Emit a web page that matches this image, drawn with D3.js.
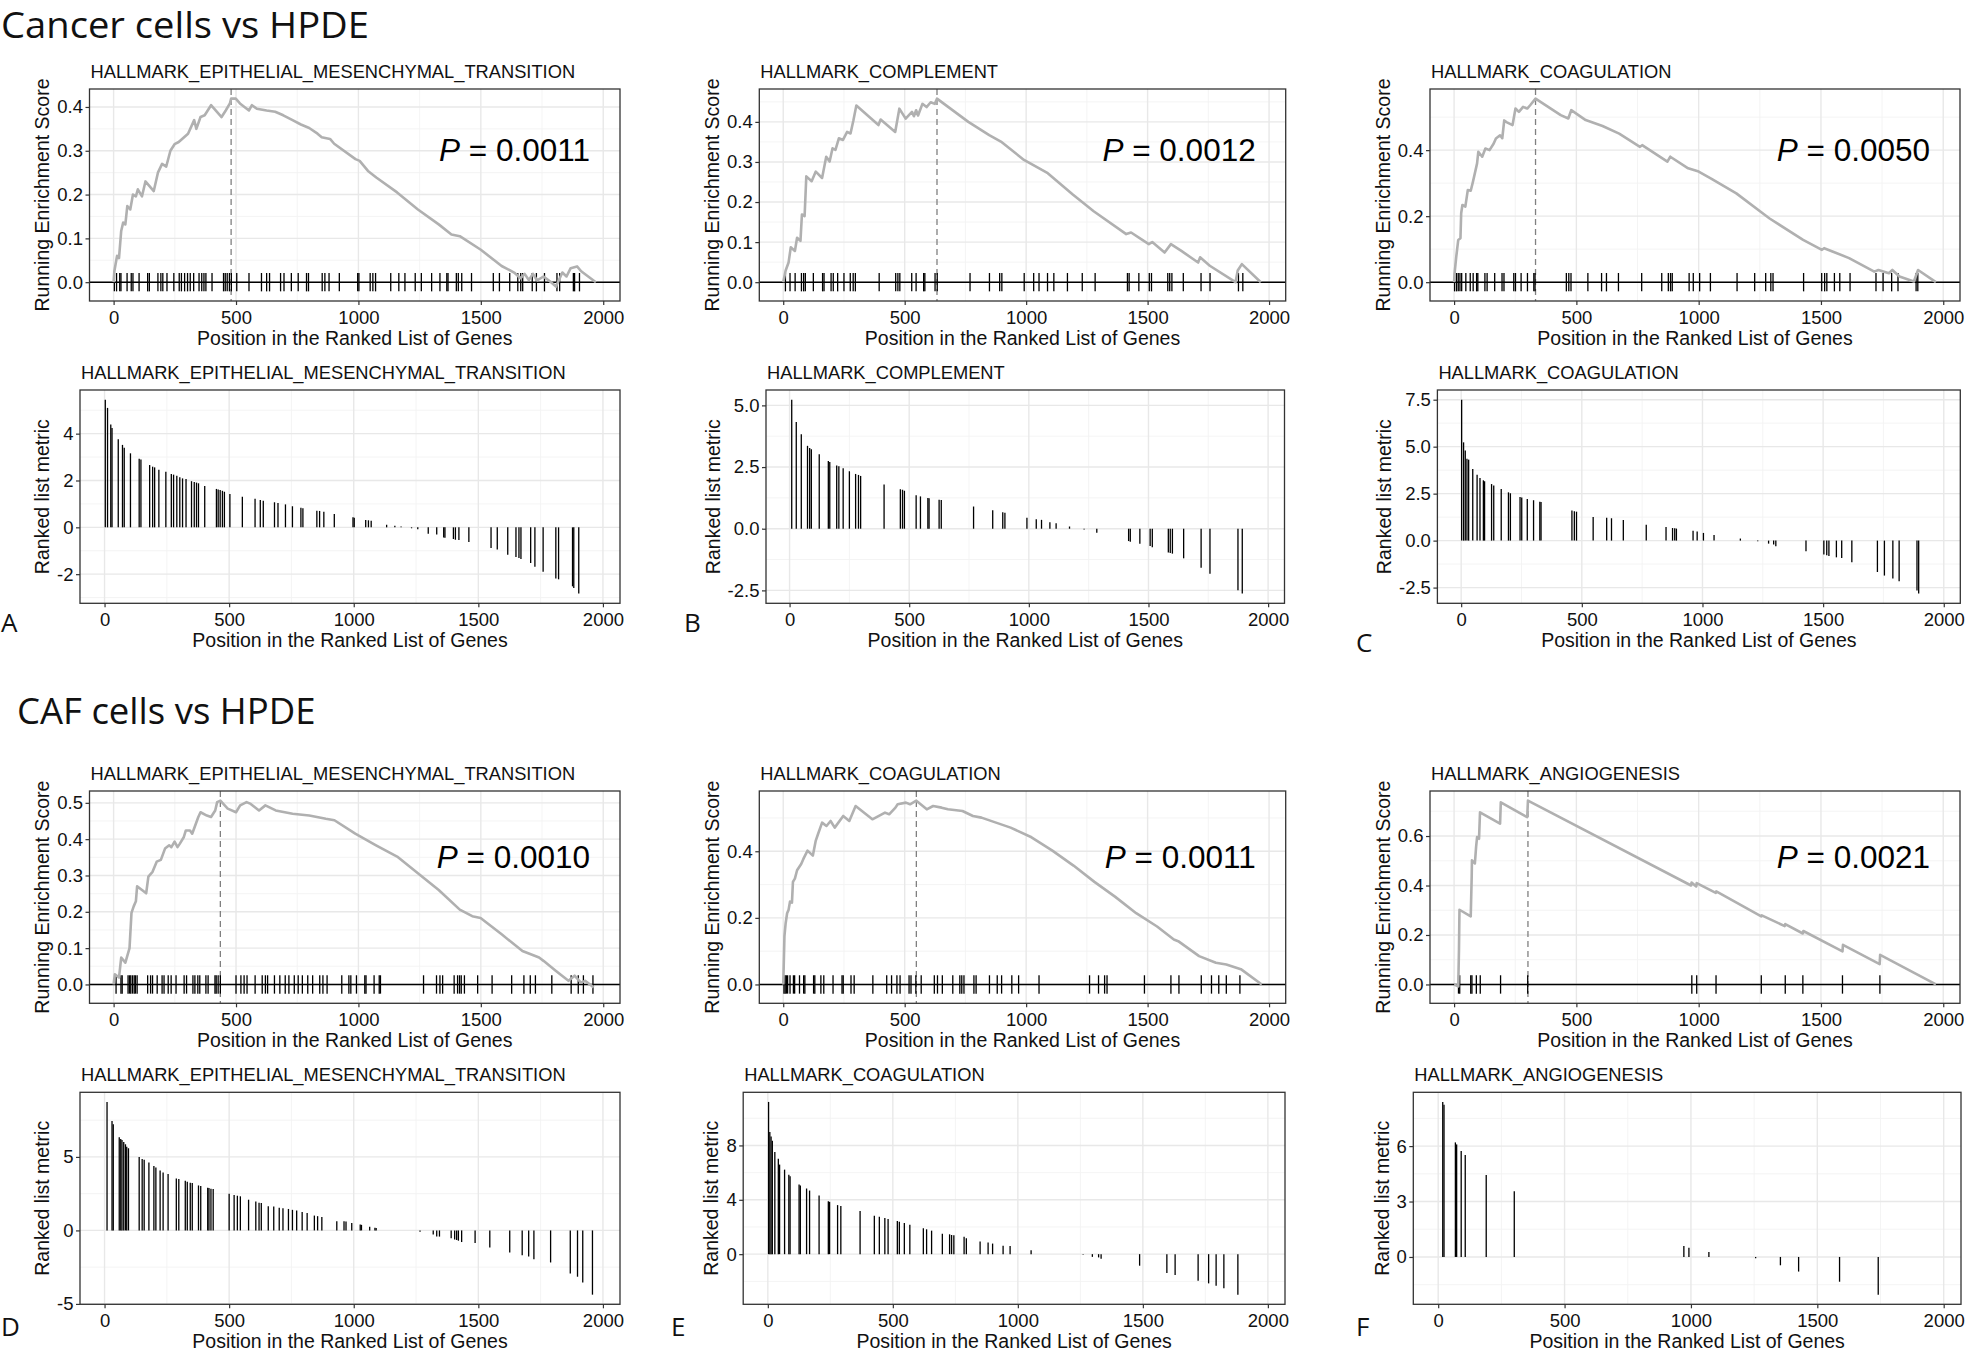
<!DOCTYPE html>
<html><head><meta charset="utf-8">
<script src="https://cdn.jsdelivr.net/npm/d3@7"></script>
<style>body{margin:0;background:#fff}svg{display:block}</style>
</head><body>
<svg id="c" width="1965" height="1351"></svg>
<script>
// ---------------- DATA ----------------
const nGenes = 1970;
const xTicks = [0, 500, 1000, 1500, 2000];
const headers = ["Cancer cells vs HPDE", "CAF cells vs HPDE"];
const panelLetters = ["A", "B", "C", "D", "E", "F"];
const titles = ["HALLMARK_EPITHELIAL_MESENCHYMAL_TRANSITION", "HALLMARK_COMPLEMENT", "HALLMARK_COAGULATION",
                "HALLMARK_EPITHELIAL_MESENCHYMAL_TRANSITION", "HALLMARK_COAGULATION", "HALLMARK_ANGIOGENESIS"];
const pValues = ["0.0011", "0.0012", "0.0050", "0.0010", "0.0011", "0.0021"];
const peaks = [480, 633, 333, 436, 548, 302];

const esTicksA = [0, 0.1, 0.2, 0.3, 0.4];
const esTicksB = [0, 0.1, 0.2, 0.3, 0.4];
const esTicksC = [0, 0.2, 0.4];
const esTicksD = [0, 0.1, 0.2, 0.3, 0.4, 0.5];
const esTicksE = [0, 0.2, 0.4];
const esTicksF = [0, 0.2, 0.4, 0.6];
const metricTicksA = [-2, 0, 2, 4];
const metricTicksB = [-2.5, 0, 2.5, 5];
const metricTicksC = [-2.5, 0, 2.5, 5, 7.5];
const metricTicksD = [-5, 0, 5];
const metricTicksE = [0, 4, 8];
const metricTicksF = [0, 3, 6];

const hitsA = [3,12,25,30,55,72,79,104,139,146,181,193,201,218,246,268,277,290,302,313,327,349,360,369,377,402,449,456,464,473,481,503,553,604,625,637,682,696,726,754,788,796,852,863,880,922,997,1002,1048,1059,1070,1132,1165,1190,1232,1257,1299,1333,1361,1366,1400,1408,1422,1462,1551,1576,1618,1651,1663,1671,1710,1727,1760,1811,1822,1878,1883,1903];
const metricA = [5.45,5.10,4.39,4.24,3.76,3.52,3.40,3.16,2.93,2.90,2.66,2.59,2.56,2.46,2.37,2.28,2.25,2.20,2.14,2.09,2.06,1.97,1.94,1.91,1.88,1.77,1.64,1.62,1.59,1.56,1.52,1.42,1.31,1.22,1.17,1.14,1.07,1.04,0.98,0.90,0.84,0.81,0.71,0.70,0.67,0.57,0.43,0.41,0.31,0.30,0.28,0.11,0.07,0.04,-0.04,-0.08,-0.27,-0.31,-0.43,-0.44,-0.50,-0.53,-0.54,-0.63,-0.88,-0.95,-1.17,-1.27,-1.31,-1.35,-1.52,-1.68,-1.90,-2.19,-2.22,-2.52,-2.59,-2.83];
const esCurveA = [[0,0],[3,0.025],[14,0.06],[22,0.055],[31,0.117],[39,0.136],[48,0.132],[56,0.174],[68,0.166],[79,0.2],[91,0.196],[99,0.212],[116,0.196],[130,0.23],[164,0.208],[181,0.25],[198,0.27],[215,0.264],[232,0.3],[249,0.315],[266,0.32],[304,0.339],[329,0.37],[338,0.35],[355,0.377],[372,0.381],[398,0.404],[441,0.377],[458,0.392],[475,0.408],[480,0.419],[499,0.419],[516,0.408],[553,0.392],[565,0.404],[585,0.396],[625,0.392],[660,0.389],[693,0.381],[731,0.37],[765,0.36],[799,0.352],[833,0.339],[850,0.331],[884,0.327],[901,0.316],[988,0.281],[1005,0.277],[1039,0.254],[1073,0.239],[1158,0.205],[1243,0.166],[1328,0.132],[1380,0.109],[1414,0.105],[1500,0.074],[1585,0.037],[1636,0.022],[1662,0.009],[1679,0.019],[1696,0.005],[1713,0.019],[1730,0.004],[1756,0.013],[1782,0.002],[1807,-0.01],[1833,0.022],[1850,0.013],[1867,0.032],[1893,0.036],[1910,0.025],[1970,0]];

const hitsB = [9,28,49,75,84,91,124,162,168,197,206,224,250,276,288,297,395,463,472,480,529,547,578,583,625,634,769,849,891,900,992,1031,1053,1088,1114,1170,1231,1284,1417,1424,1464,1507,1516,1583,1591,1600,1647,1720,1757,1874,1892];
const metricB = [5.23,4.33,3.83,3.36,3.27,3.22,3.02,2.74,2.70,2.56,2.53,2.45,2.33,2.22,2.18,2.14,1.79,1.60,1.58,1.54,1.36,1.31,1.25,1.24,1.17,1.16,0.90,0.75,0.67,0.65,0.44,0.38,0.36,0.26,0.22,0.09,-0.03,-0.16,-0.50,-0.53,-0.61,-0.70,-0.75,-0.96,-0.98,-1.01,-1.20,-1.58,-1.83,-2.49,-2.63];
const esCurveB = [[0,0],[10,0.029],[22,0.049],[31,0.087],[48,0.078],[57,0.111],[71,0.103],[77,0.169],[88,0.165],[95,0.264],[117,0.252],[134,0.276],[160,0.26],[177,0.313],[191,0.301],[203,0.334],[215,0.33],[229,0.359],[246,0.355],[263,0.375],[277,0.371],[289,0.404],[301,0.441],[392,0.392],[401,0.406],[461,0.375],[478,0.433],[504,0.408],[530,0.425],[538,0.414],[547,0.429],[555,0.416],[573,0.445],[590,0.437],[607,0.449],[624,0.445],[633,0.458],[762,0.40],[848,0.367],[896,0.351],[991,0.305],[1089,0.272],[1192,0.219],[1278,0.177],[1412,0.120],[1432,0.124],[1475,0.107],[1505,0.095],[1519,0.10],[1570,0.074],[1596,0.095],[1639,0.078],[1708,0.049],[1716,0.062],[1756,0.041],[1862,0.0],[1871,0.029],[1888,0.045],[1966,0]];

const hitsC = [2,10,17,24,31,48,66,78,92,97,126,135,166,196,204,244,251,274,300,326,331,459,469,478,547,603,623,672,767,849,876,885,892,961,978,1004,1048,1157,1229,1274,1295,1304,1429,1503,1515,1524,1555,1577,1619,1725,1754,1789,1815,1889,1896];
const metricC = [7.50,5.23,4.79,4.36,4.31,3.81,3.51,3.33,3.21,3.16,3.01,2.94,2.75,2.57,2.52,2.32,2.29,2.22,2.15,2.07,2.06,1.60,1.56,1.54,1.26,1.22,1.19,1.10,0.85,0.73,0.67,0.66,0.64,0.53,0.48,0.41,0.30,0.11,-0.04,-0.16,-0.21,-0.30,-0.57,-0.74,-0.78,-0.82,-0.89,-0.92,-1.15,-1.67,-1.86,-2.02,-2.16,-2.66,-2.82];
const esCurveC = [[0,0],[2,0.027],[9,0.078],[17,0.128],[26,0.133],[29,0.209],[34,0.234],[46,0.229],[56,0.279],[68,0.277],[77,0.304],[94,0.36],[99,0.395],[115,0.38],[128,0.405],[145,0.40],[162,0.42],[171,0.435],[188,0.445],[197,0.436],[205,0.49],[214,0.485],[239,0.476],[251,0.526],[265,0.516],[282,0.531],[299,0.526],[311,0.536],[333,0.556],[436,0.506],[467,0.496],[479,0.521],[538,0.491],[607,0.473],[675,0.45],[760,0.41],[769,0.415],[872,0.365],[884,0.38],[957,0.345],[1000,0.335],[1051,0.314],[1154,0.269],[1290,0.193],[1427,0.128],[1504,0.098],[1513,0.103],[1547,0.093],[1615,0.073],[1718,0.032],[1735,0.037],[1778,0.027],[1792,0.037],[1821,0.017],[1880,0.002],[1897,0.037],[1970,0]];

const hitsD = [10,30,35,59,65,70,77,84,89,96,139,151,159,178,198,206,223,235,255,288,298,324,332,344,352,377,386,414,419,427,436,500,520,533,545,578,607,620,629,657,679,701,716,738,754,771,793,813,842,855,872,932,961,969,992,1026,1031,1064,1085,1090,1266,1319,1333,1344,1391,1405,1413,1420,1433,1487,1546,1626,1676,1702,1723,1790,1869,1898,1919,1958];
const metricD = [8.74,7.45,7.23,6.33,6.22,6.15,6.01,5.86,5.70,5.59,5.00,4.86,4.80,4.62,4.39,4.28,4.08,3.94,3.83,3.54,3.49,3.38,3.31,3.24,3.22,3.06,3.02,2.91,2.88,2.84,2.82,2.50,2.41,2.36,2.32,2.09,1.96,1.89,1.87,1.64,1.62,1.55,1.51,1.46,1.40,1.35,1.26,1.19,1.01,0.97,0.92,0.63,0.62,0.61,0.50,0.41,0.38,0.25,0.18,0.16,-0.09,-0.27,-0.41,-0.42,-0.54,-0.61,-0.65,-0.70,-0.79,-0.86,-1.17,-1.51,-1.69,-1.78,-1.96,-2.18,-2.93,-3.15,-3.54,-4.37];
const esCurveD = [[0,0],[5,0.028],[22,0.019],[31,0.074],[48,0.06],[65,0.10],[73,0.197],[82,0.215],[91,0.229],[96,0.27],[116,0.26],[133,0.251],[142,0.297],[159,0.31],[176,0.338],[193,0.343],[210,0.374],[227,0.383],[236,0.378],[249,0.393],[261,0.378],[270,0.387],[287,0.406],[295,0.424],[312,0.424],[321,0.415],[346,0.461],[355,0.474],[381,0.465],[398,0.461],[415,0.479],[423,0.502],[436,0.506],[466,0.484],[500,0.474],[517,0.493],[543,0.502],[560,0.497],[577,0.488],[594,0.479],[620,0.493],[662,0.479],[731,0.47],[799,0.465],[867,0.456],[902,0.452],[987,0.415],[1072,0.383],[1158,0.352],[1243,0.306],[1328,0.26],[1414,0.206],[1465,0.188],[1499,0.183],[1585,0.138],[1670,0.092],[1738,0.074],[1756,0.065],[1807,0.037],[1858,0.01],[1883,0.024],[1909,0.005],[1926,0.01],[1961,-0.008]];

const hitsE = [3,8,13,18,28,42,47,67,84,89,125,130,155,167,205,242,247,279,292,369,426,446,468,481,518,526,546,568,622,635,655,698,727,735,744,785,794,849,881,899,941,969,1053,1261,1298,1323,1333,1487,1596,1629,1721,1763,1793,1824,1880];
const metricE = [11.2,8.98,8.66,8.34,7.51,7.02,6.59,6.22,5.85,5.73,5.12,5.05,4.83,4.68,4.32,3.90,3.85,3.61,3.54,3.17,2.83,2.76,2.66,2.59,2.44,2.39,2.29,2.17,1.90,1.83,1.73,1.51,1.46,1.41,1.39,1.29,1.17,0.93,0.85,0.78,0.61,0.60,0.29,-0.05,-0.20,-0.24,-0.34,-0.85,-1.39,-1.54,-1.95,-2.15,-2.32,-2.51,-2.98];
const esCurveE = [[0,0],[2,0.055],[5,0.145],[10,0.184],[16,0.214],[22,0.224],[28,0.249],[36,0.246],[40,0.308],[48,0.318],[57,0.343],[74,0.362],[83,0.377],[100,0.402],[122,0.387],[134,0.432],[143,0.451],[160,0.486],[178,0.476],[195,0.491],[212,0.471],[247,0.506],[272,0.491],[298,0.536],[367,0.496],[419,0.516],[436,0.511],[462,0.531],[471,0.541],[505,0.546],[522,0.541],[548,0.552],[591,0.526],[617,0.536],[652,0.531],[678,0.526],[738,0.521],[781,0.506],[816,0.501],[936,0.471],[1022,0.442],[1108,0.402],[1195,0.357],[1281,0.308],[1367,0.263],[1453,0.214],[1539,0.174],[1608,0.135],[1626,0.13],[1712,0.085],[1781,0.065],[1824,0.06],[1884,0.046],[1970,0]];

const hitsF = [18,23,68,73,91,107,190,301,972,992,1071,1256,1354,1426,1588,1741];
const metricF = [8.39,8.24,6.20,6.09,5.73,5.52,4.44,3.55,0.59,0.50,0.27,-0.07,-0.45,-0.79,-1.34,-2.04];
const esCurveF = [[0,0],[17,-0.008],[20,0.142],[22,0.302],[68,0.275],[72,0.436],[73,0.502],[85,0.489],[90,0.556],[94,0.596],[102,0.589],[106,0.696],[188,0.65],[191,0.736],[299,0.676],[302,0.743],[969,0.400],[971,0.412],[990,0.396],[992,0.410],[1070,0.370],[1072,0.376],[1256,0.275],[1258,0.279],[1352,0.236],[1354,0.244],[1426,0.206],[1428,0.216],[1588,0.134],[1590,0.160],[1740,0.082],[1742,0.120],[1970,0]];

// ---------------- LAYOUT / STYLE ----------------
const FONT = "'Liberation Sans', Arial, Helvetica, sans-serif";
const HFONT = "'Open Sans', 'Noto Sans', sans-serif";
const esBoxes = [
  {left:89.5, right:620, top:89, bottom:301, pY:161},
  {left:759.3, right:1285.7, top:89, bottom:301, pY:161},
  {left:1430, right:1960, top:89, bottom:301, pY:161},
  {left:89.5, right:620, top:791, bottom:1003.3, pY:868},
  {left:759.3, right:1285.7, top:791, bottom:1003.3, pY:868},
  {left:1430, right:1960, top:791, bottom:1003.3, pY:868}];
const mBoxes = [
  {left:80, right:620, top:390, bottom:603.3},
  {left:766, right:1284.5, top:390, bottom:603.3},
  {left:1437.4, right:1960.3, top:390, bottom:603.3},
  {left:80, right:620, top:1092.3, bottom:1304.3},
  {left:743.2, right:1285, top:1092.3, bottom:1304.3},
  {left:1413.3, right:1961, top:1092.3, bottom:1304.3}];
const letterPos = [[1,632],[684,632],[1356,652],[1,1336],[671,1336],[1356,1336]];

const esSets = [
  [esCurveA, hitsA, esTicksA], [esCurveB, hitsB, esTicksB], [esCurveC, hitsC, esTicksC],
  [esCurveD, hitsD, esTicksD], [esCurveE, hitsE, esTicksE], [esCurveF, hitsF, esTicksF]];
const mSets = [
  [hitsA, metricA, metricTicksA, ".0f"], [hitsB, metricB, metricTicksB, ".1f"], [hitsC, metricC, metricTicksC, ".1f"],
  [hitsD, metricD, metricTicksD, ".0f"], [hitsE, metricE, metricTicksE, ".0f"], [hitsF, metricF, metricTicksF, ".0f"]];

const loc = d3.formatLocale({decimal:".", thousands:",", grouping:[3], currency:["",""], minus:"-"});
const svg = d3.select("#c");
svg.append("rect").attr("width",1965).attr("height",1351).attr("fill","#fff");

function expand(lo, hi){ const d=(hi-lo)*0.05; return [lo-d, hi+d]; }
function minors(ticks, dom){
  const s = ticks[1]-ticks[0], out=[];
  for (let i=-1;i<ticks.length;i++){ const v = ticks[0]+(i+0.5)*s; if (v>dom[0] && v<dom[1]) out.push(v); }
  return out;
}
const xDom = expand(0, nGenes);

function panel(box, yDom, yTicks, yFmt, title, yLabel, drawData){
  const x = d3.scaleLinear().domain(xDom).range([box.left, box.right]);
  const y = d3.scaleLinear().domain(yDom).range([box.bottom, box.top]);
  const g = svg.append("g");
  const mx = minors(xTicks, xDom), my = minors(yTicks, yDom);
  const grid = g.append("g");
  grid.selectAll(".mx").data(mx).join("line").attr("x1",d=>x(d)).attr("x2",d=>x(d)).attr("y1",box.top).attr("y2",box.bottom).attr("stroke","#F3F3F3").attr("stroke-width",0.9);
  grid.selectAll(".my").data(my).join("line").attr("y1",d=>y(d)).attr("y2",d=>y(d)).attr("x1",box.left).attr("x2",box.right).attr("stroke","#F3F3F3").attr("stroke-width",0.9);
  grid.selectAll(".Mx").data(xTicks).join("line").attr("x1",d=>x(d)).attr("x2",d=>x(d)).attr("y1",box.top).attr("y2",box.bottom).attr("stroke","#E8E8E8").attr("stroke-width",1.4);
  grid.selectAll(".My").data(yTicks).join("line").attr("y1",d=>y(d)).attr("y2",d=>y(d)).attr("x1",box.left).attr("x2",box.right).attr("stroke","#E8E8E8").attr("stroke-width",1.4);
  drawData(g, x, y);
  g.append("rect").attr("x",box.left).attr("y",box.top).attr("width",box.right-box.left).attr("height",box.bottom-box.top)
    .attr("fill","none").attr("stroke","#333").attr("stroke-width",1.3);
  const ax = g.append("g").attr("transform",`translate(0,${box.bottom})`)
    .call(d3.axisBottom(x).tickValues(xTicks).tickSize(4).tickPadding(5.5).tickFormat(loc.format("d")));
  const ay = g.append("g").attr("transform",`translate(${box.left},0)`)
    .call(d3.axisLeft(y).tickValues(yTicks).tickSize(4).tickPadding(2.5).tickFormat(loc.format(yFmt)));
  [ax, ay].forEach(a => {
    a.select(".domain").remove();
    a.selectAll("line").attr("stroke","#333").attr("stroke-width",1.2);
    a.selectAll("text").attr("font-size",18.5).attr("fill","#111").attr("font-family",FONT);
  });
  let maxW = 0;
  ay.selectAll("text").each(function(){ maxW = Math.max(maxW, this.getComputedTextLength()); });
  g.append("text").attr("x",box.left+1).attr("y",box.top-11).attr("font-family",FONT).attr("font-size",18.3).attr("fill","#111").text(title);
  g.append("text").attr("x",(box.left+box.right)/2).attr("y",box.bottom+44).attr("text-anchor","middle")
    .attr("font-family",FONT).attr("font-size",19.5).attr("fill","#111").text("Position in the Ranked List of Genes");
  const yl = box.left - 6.5 - maxW - 8;
  g.append("text").attr("transform",`translate(${yl},${(box.top+box.bottom)/2}) rotate(-90)`).attr("text-anchor","middle")
    .attr("font-family",FONT).attr("font-size",19.5).attr("fill","#111").text(yLabel);
  return g;
}

// ES panels
esSets.forEach(([curve, hits, ticks], i) => {
  const box = esBoxes[i];
  const maxES = d3.max(curve, d=>d[1]), minES = d3.min(curve, d=>d[1]);
  const h = maxES/20;
  const yDom = expand(Math.min(minES, -h), maxES);
  panel(box, yDom, ticks, ".1f", titles[i], "Running Enrichment Score", (g, x, y) => {
    g.append("line").attr("x1",x(peaks[i])).attr("x2",x(peaks[i])).attr("y1",box.top).attr("y2",box.bottom)
      .attr("stroke","#808080").attr("stroke-width",1.3).attr("stroke-dasharray","6,4");
    g.append("line").attr("x1",box.left).attr("x2",box.right).attr("y1",y(0)).attr("y2",y(0)).attr("stroke","#000").attr("stroke-width",1.6);
    g.append("g").selectAll("line").data(hits).join("line")
      .attr("x1",d=>x(d)).attr("x2",d=>x(d)).attr("y1",y(h)).attr("y2",y(-h)).attr("stroke","#000").attr("stroke-width",1.3);
    g.append("path").datum(curve).attr("d", d3.line().x(d=>x(d[0])).y(d=>y(d[1])))
      .attr("fill","none").attr("stroke","#B0B0B0").attr("stroke-width",2.6).attr("stroke-linejoin","round");
    const t = g.append("text").attr("x",box.right-30).attr("y",box.pY).attr("text-anchor","end")
      .attr("font-family",FONT).attr("font-size",31.5).attr("fill","#000");
    t.append("tspan").attr("font-style","italic").text("P");
    t.append("tspan").text(" = " + pValues[i]);
  });
});

// metric panels
mSets.forEach(([hits, metric, ticks, fmt], i) => {
  const box = mBoxes[i];
  const yDom = expand(d3.min(metric), d3.max(metric));
  panel(box, yDom, ticks, fmt, titles[i], "Ranked list metric", (g, x, y) => {
    g.append("g").selectAll("line").data(hits).join("line")
      .attr("x1",(d)=>x(d)).attr("x2",(d)=>x(d)).attr("y1",y(0)).attr("y2",(d,j)=>y(metric[j]))
      .attr("stroke","#000").attr("stroke-width",1.3);
  });
});

// headers & letters
svg.append("text").attr("x",1).attr("y",38).attr("font-family",HFONT).attr("font-size",36)
  .attr("textLength",368).attr("lengthAdjust","spacingAndGlyphs").attr("fill","#111").text(headers[0]);
svg.append("text").attr("x",17).attr("y",724).attr("font-family",HFONT).attr("font-size",36.5).attr("fill","#111").text(headers[1]);
panelLetters.forEach((L,i) => {
  svg.append("text").attr("x",letterPos[i][0]).attr("y",letterPos[i][1]).attr("font-family",HFONT).attr("font-size",26).attr("fill","#111").text(L);
});
</script>
</body></html>
